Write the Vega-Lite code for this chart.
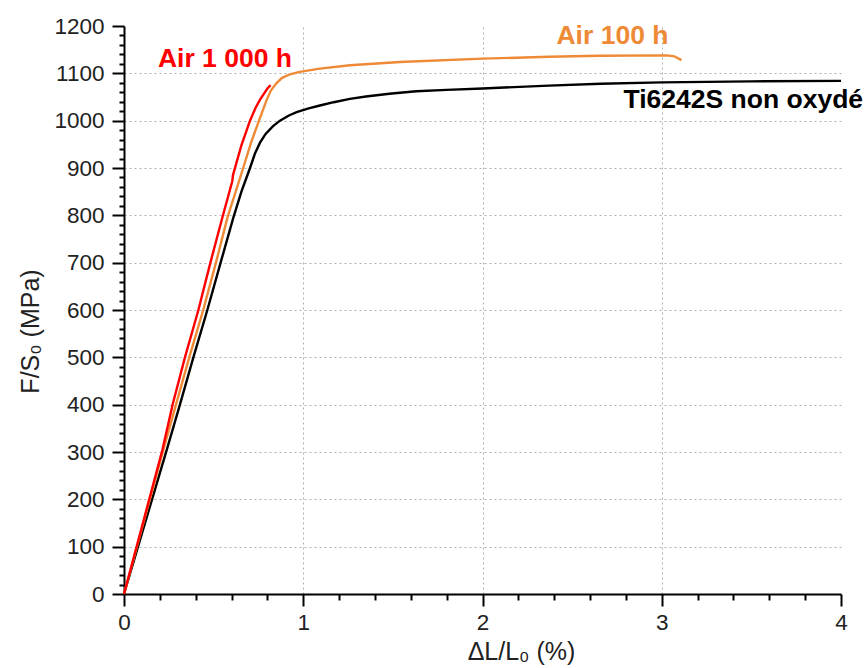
{
  "$schema": "https://vega.github.io/schema/vega-lite/v6.json",
  "autosize": "none",
  "width": 717,
  "height": 568,
  "padding": {"left": 124, "top": 26, "right": 25, "bottom": 74},
  "background": "white",
  "config": {
    "view": {"stroke": null},
    "font": "Liberation Sans"
  },
  "datasets": {
    "curves": [
      {"s": "Ti6242S non oxydé", "x": 0, "y": 0},
      {"s": "Ti6242S non oxydé", "x": 0.238, "y": 304},
      {"s": "Ti6242S non oxydé", "x": 0.312, "y": 400},
      {"s": "Ti6242S non oxydé", "x": 0.387, "y": 500},
      {"s": "Ti6242S non oxydé", "x": 0.465, "y": 600},
      {"s": "Ti6242S non oxydé", "x": 0.539, "y": 700},
      {"s": "Ti6242S non oxydé", "x": 0.61, "y": 795},
      {"s": "Ti6242S non oxydé", "x": 0.655, "y": 850},
      {"s": "Ti6242S non oxydé", "x": 0.703, "y": 900},
      {"s": "Ti6242S non oxydé", "x": 0.73, "y": 930},
      {"s": "Ti6242S non oxydé", "x": 0.758, "y": 953},
      {"s": "Ti6242S non oxydé", "x": 0.79, "y": 972},
      {"s": "Ti6242S non oxydé", "x": 0.83, "y": 988},
      {"s": "Ti6242S non oxydé", "x": 0.87, "y": 1000},
      {"s": "Ti6242S non oxydé", "x": 0.92, "y": 1011},
      {"s": "Ti6242S non oxydé", "x": 0.963, "y": 1018},
      {"s": "Ti6242S non oxydé", "x": 1.03, "y": 1026},
      {"s": "Ti6242S non oxydé", "x": 1.093, "y": 1032},
      {"s": "Ti6242S non oxydé", "x": 1.17, "y": 1039},
      {"s": "Ti6242S non oxydé", "x": 1.26, "y": 1046},
      {"s": "Ti6242S non oxydé", "x": 1.35, "y": 1051},
      {"s": "Ti6242S non oxydé", "x": 1.48, "y": 1057},
      {"s": "Ti6242S non oxydé", "x": 1.63, "y": 1062},
      {"s": "Ti6242S non oxydé", "x": 1.8, "y": 1065},
      {"s": "Ti6242S non oxydé", "x": 2.0, "y": 1068},
      {"s": "Ti6242S non oxydé", "x": 2.37, "y": 1074},
      {"s": "Ti6242S non oxydé", "x": 2.66, "y": 1078},
      {"s": "Ti6242S non oxydé", "x": 3.0, "y": 1081},
      {"s": "Ti6242S non oxydé", "x": 3.5, "y": 1083},
      {"s": "Ti6242S non oxydé", "x": 4.0, "y": 1084},
      {"s": "Air 100 h", "x": 0, "y": 0},
      {"s": "Air 100 h", "x": 0.219, "y": 304},
      {"s": "Air 100 h", "x": 0.29, "y": 400},
      {"s": "Air 100 h", "x": 0.364, "y": 500},
      {"s": "Air 100 h", "x": 0.442, "y": 600},
      {"s": "Air 100 h", "x": 0.513, "y": 700},
      {"s": "Air 100 h", "x": 0.577, "y": 795},
      {"s": "Air 100 h", "x": 0.665, "y": 900},
      {"s": "Air 100 h", "x": 0.71, "y": 955},
      {"s": "Air 100 h", "x": 0.753, "y": 1000},
      {"s": "Air 100 h", "x": 0.796, "y": 1044},
      {"s": "Air 100 h", "x": 0.82, "y": 1064},
      {"s": "Air 100 h", "x": 0.85, "y": 1079},
      {"s": "Air 100 h", "x": 0.88, "y": 1090},
      {"s": "Air 100 h", "x": 0.926, "y": 1098},
      {"s": "Air 100 h", "x": 0.98, "y": 1103},
      {"s": "Air 100 h", "x": 1.093, "y": 1110},
      {"s": "Air 100 h", "x": 1.26, "y": 1117},
      {"s": "Air 100 h", "x": 1.54, "y": 1124},
      {"s": "Air 100 h", "x": 2.0, "y": 1131},
      {"s": "Air 100 h", "x": 2.37, "y": 1135},
      {"s": "Air 100 h", "x": 2.65, "y": 1137},
      {"s": "Air 100 h", "x": 3.03, "y": 1138},
      {"s": "Air 100 h", "x": 3.07, "y": 1136},
      {"s": "Air 100 h", "x": 3.11, "y": 1128},
      {"s": "Air 1 000 h", "x": 0, "y": 0},
      {"s": "Air 1 000 h", "x": 0.214, "y": 304},
      {"s": "Air 1 000 h", "x": 0.271, "y": 400},
      {"s": "Air 1 000 h", "x": 0.34, "y": 500},
      {"s": "Air 1 000 h", "x": 0.415, "y": 600},
      {"s": "Air 1 000 h", "x": 0.482, "y": 700},
      {"s": "Air 1 000 h", "x": 0.545, "y": 790},
      {"s": "Air 1 000 h", "x": 0.604, "y": 872},
      {"s": "Air 1 000 h", "x": 0.608, "y": 885},
      {"s": "Air 1 000 h", "x": 0.655, "y": 948},
      {"s": "Air 1 000 h", "x": 0.703, "y": 1000},
      {"s": "Air 1 000 h", "x": 0.735, "y": 1028},
      {"s": "Air 1 000 h", "x": 0.758, "y": 1044},
      {"s": "Air 1 000 h", "x": 0.8, "y": 1068},
      {"s": "Air 1 000 h", "x": 0.818, "y": 1075}
    ],
    "labels": [
      {"s": "Air 1 000 h", "x": 0.563, "y": 1130},
      {"s": "Air 100 h", "x": 2.725, "y": 1178},
      {"s": "Ti6242S non oxydé", "x": 3.455, "y": 1043}
    ]
  },
  "resolve": {"axis": {"x": "independent", "y": "independent"}},
  "layer": [
    {
      "data": {"name": "labels"},
      "mark": {"type": "text", "opacity": 0},
      "encoding": {
        "x": {
          "field": "x", "type": "quantitative",
          "scale": {"domain": [0, 4], "nice": false, "zero": false},
          "axis": {
            "orient": "top", "title": null, "values": [1, 2, 3],
            "labels": false, "ticks": false, "domain": false,
            "grid": true, "gridColor": "#b0b0b0", "gridDash": [2, 3], "gridWidth": 1
          }
        },
        "y": {
          "field": "y", "type": "quantitative",
          "scale": {"domain": [0, 1200], "nice": false},
          "axis": {
            "orient": "right", "title": null, "values": [100, 200, 300, 400, 500, 600, 700, 800, 900, 1000, 1100],
            "labels": false, "ticks": false, "domain": false,
            "grid": true, "gridColor": "#b0b0b0", "gridDash": [2, 3], "gridWidth": 1
          }
        },
        "text": {"field": "s"}
      }
    },
    {
      "data": {"name": "curves"},
      "mark": {"type": "line", "strokeWidth": 2.4, "clip": false},
      "encoding": {
        "x": {
          "field": "x", "type": "quantitative",
          "axis": {
            "orient": "bottom",
            "title": "ΔL/L₀ (%)",
            "titleX": 397,
            "titleAlign": "center",
            "values": [0, 0.2, 0.4, 0.6, 0.8, 1, 1.2, 1.4, 1.6, 1.8, 2, 2.2, 2.4, 2.6, 2.8, 3, 3.2, 3.4, 3.6, 3.8, 4],
            "labelExpr": "abs(datum.value - round(datum.value)) < 1e-6 ? format(datum.value, 'd') : ''",
            "labelOverlap": false,
            "labelFlush": false,
            "labelFont": "Liberation Sans", "labelFontSize": 22.5, "labelColor": "#222",
            "labelPadding": 5,
            "titleFont": "Liberation Sans", "titleFontSize": 25, "titleFontWeight": "normal", "titleColor": "#222",
            "titlePadding": 6,
            "domainColor": "#000", "domainWidth": 2,
            "tickColor": "#000", "tickWidth": 2,
            "tickSize": {"condition": {"test": "abs(datum.value - round(datum.value)) < 1e-6", "value": 12}, "value": 6},
            "grid": false
          }
        },
        "y": {
          "field": "y", "type": "quantitative",
          "axis": {
            "orient": "left",
            "title": "F/S₀ (MPa)",
            "titleY": 305,
            "titleAlign": "center",
            "values": [0, 20, 40, 60, 80, 100, 120, 140, 160, 180, 200, 220, 240, 260, 280, 300, 320, 340, 360, 380, 400, 420, 440, 460, 480, 500, 520, 540, 560, 580, 600, 620, 640, 660, 680, 700, 720, 740, 760, 780, 800, 820, 840, 860, 880, 900, 920, 940, 960, 980, 1000, 1020, 1040, 1060, 1080, 1100, 1120, 1140, 1160, 1180, 1200],
            "labelExpr": "datum.value % 100 === 0 ? format(datum.value, 'd') : ''",
            "labelOverlap": false,
            "labelFlush": false,
            "labelFont": "Liberation Sans", "labelFontSize": 22.5, "labelColor": "#222",
            "labelPadding": 8,
            "titleFont": "Liberation Sans", "titleFontSize": 25, "titleFontWeight": "normal", "titleColor": "#222",
            "titlePadding": 10,
            "domainColor": "#000", "domainWidth": 2,
            "tickColor": "#000", "tickWidth": 2,
            "tickSize": {"condition": {"test": "datum.value % 100 === 0", "value": 12}, "value": 5},
            "grid": false
          }
        },
        "color": {
          "field": "s", "type": "nominal",
          "scale": {"domain": ["Ti6242S non oxydé", "Air 100 h", "Air 1 000 h"], "range": ["#000000", "#EE8A35", "#FF0000"]},
          "legend": null
        },
        "detail": {"field": "s"}
      }
    },
    {
      "data": {"name": "labels"},
      "mark": {"type": "text", "font": "Liberation Sans", "fontSize": 26.5, "fontWeight": "bold", "align": "center", "baseline": "middle", "clip": false},
      "encoding": {
        "x": {"field": "x", "type": "quantitative", "axis": null},
        "y": {"field": "y", "type": "quantitative", "axis": null},
        "text": {"field": "s"},
        "color": {"field": "s", "type": "nominal", "legend": null}
      }
    }
  ]
}
